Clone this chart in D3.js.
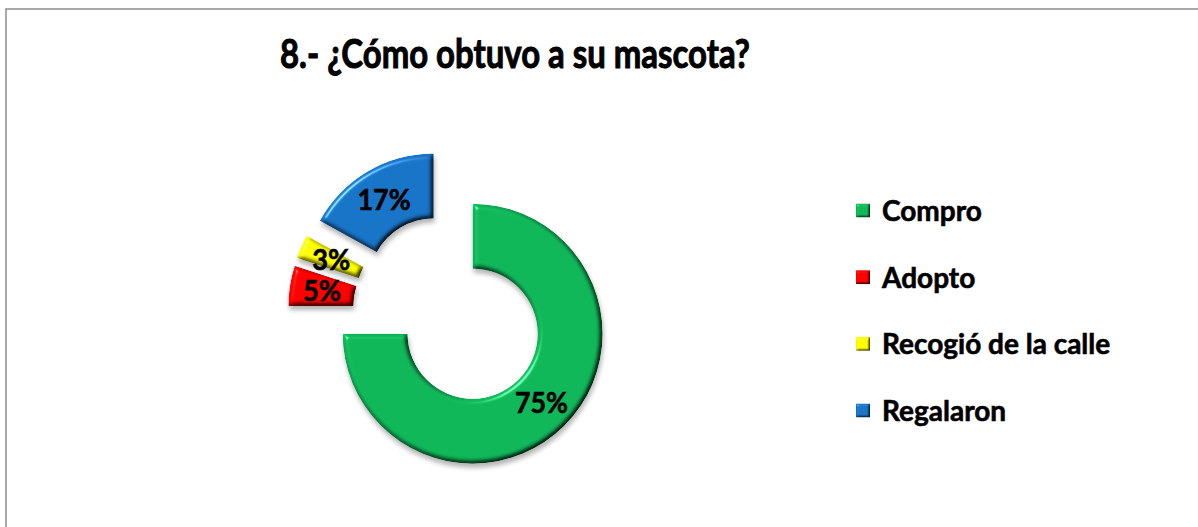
<!DOCTYPE html>
<html>
<head>
<meta charset="utf-8">
<script src="https://cdn.jsdelivr.net/npm/d3@7"></script>
<style>
    html, body { margin: 0; padding: 0; background: #fff; }
    svg { display: block; }
    text { font-family: Lato, "Open Sans", sans-serif; font-weight: 700; fill: #000; stroke: #000; stroke-width: 0.6px; }
</style>
</head>
<body>
<svg id="chart" width="1198" height="527"></svg>
<script>
const title = '8.- ¿Cómo obtuvo a su mascota?';
const categories = ['Compro', 'Adopto', 'Recogió de la calle', 'Regalaron'];
const values = [75, 5, 3, 17];
const colors = ['#10b759', '#ff0000', '#ffff00', '#1874c6'];

const width = 1198;
const height = 527;
const center = [450, 311];
const outerRadius = 130;
const innerRadius = 65;
const explode = 32;

const svg = d3.select('#chart');
const defs = svg.append('defs');

// bevel + drop shadow, rough copy of the office "soft round" look
function makeBevel(id, blur, scale, shadow) {
    const f = defs.append('filter').attr('id', id)
        .attr('color-interpolation-filters', 'sRGB')
        .attr('x', '-20%').attr('y', '-20%').attr('width', '140%').attr('height', '140%');
    f.append('feGaussianBlur').attr('in', 'SourceAlpha').attr('stdDeviation', blur).attr('result', 'blur');
    f.append('feDiffuseLighting').attr('in', 'blur').attr('surfaceScale', scale)
        .attr('diffuseConstant', 1 / Math.sin(60 * Math.PI / 180)).attr('lighting-color', '#fff').attr('result', 'diff')
        .append('feDistantLight').attr('azimuth', 225).attr('elevation', 60);
    f.append('feSpecularLighting').attr('in', 'blur').attr('surfaceScale', scale)
        .attr('specularConstant', 0.5).attr('specularExponent', 40).attr('lighting-color', '#fff').attr('result', 'spec')
        .append('feDistantLight').attr('azimuth', 225).attr('elevation', 35);
    f.append('feComposite').attr('in', 'SourceGraphic').attr('in2', 'diff').attr('operator', 'arithmetic')
        .attr('k1', 1).attr('result', 'shade');
    f.append('feComposite').attr('in', 'spec').attr('in2', 'SourceAlpha').attr('operator', 'in').attr('result', 'specIn');
    f.append('feComposite').attr('in', 'shade').attr('in2', 'specIn').attr('operator', 'arithmetic')
        .attr('k2', 1).attr('k3', 1).attr('result', 'lit');
    f.append('feComposite').attr('in', 'lit').attr('in2', 'SourceAlpha').attr('operator', 'in').attr('result', 'litIn');
    const m = f.append('feMerge');
    if (shadow) {
        f.insert('feGaussianBlur', 'feMerge').attr('in', 'SourceAlpha').attr('stdDeviation', 2.5).attr('result', 'sh');
        f.insert('feOffset', 'feMerge').attr('in', 'sh').attr('dx', 1).attr('dy', 4).attr('result', 'shOff');
        f.insert('feComponentTransfer', 'feMerge').attr('in', 'shOff').attr('result', 'shFade')
            .append('feFuncA').attr('type', 'linear').attr('slope', 0.3);
        m.append('feMergeNode').attr('in', 'shFade');
    }
    m.append('feMergeNode').attr('in', 'litIn');
}
makeBevel('bevel', 2.5, 4, true);
makeBevel('bevelSmall', 1.2, 2, false);

// chart area border
svg.append('rect')
    .attr('x', 6).attr('y', 9)
    .attr('width', width + 20).attr('height', height + 20)
    .attr('fill', 'none').attr('stroke', '#8c8c8c').attr('stroke-width', 1.5);

// squeeze the text to the width it has in the original (Calibri is narrow)
function squeeze(sel, target) {
    sel.each(function () {
        const w = this.getComputedTextLength();
        if (w > target) {
            d3.select(this).attr('textLength', target).attr('lengthAdjust', 'spacingAndGlyphs');
        }
    });
}

const titleText = svg.append('text')
    .attr('x', 515).attr('y', 68)
    .attr('text-anchor', 'middle')
    .style('font-size', '40px')
    .style('stroke-width', '1px')
    .text(title);
squeeze(titleText, 470);

const color = d3.scaleOrdinal().domain(categories).range(colors);
const total = d3.sum(values);

const pie = d3.pie().sort(null).value(d => d.value);
const arc = d3.arc().innerRadius(innerRadius).outerRadius(outerRadius);
const slices = pie(categories.map((c, i) => ({ name: c, value: values[i] })));

function offset(d) {
    const a = (d.startAngle + d.endAngle) / 2;
    return [explode * Math.sin(a), -explode * Math.cos(a)];
}

const g = svg.append('g').attr('transform', `translate(${center})`);

const sliceG = g.selectAll('g.slice').data(slices).enter()
    .append('g')
    .classed('slice', true)
    .attr('transform', d => `translate(${offset(d)})`);

sliceG.append('path')
    .attr('d', arc)
    .attr('fill', d => color(d.data.name))
    .attr('filter', 'url(#bevel)');

const labels = sliceG.append('text')
    .attr('x', d => arc.centroid(d)[0])
    .attr('y', d => arc.centroid(d)[1])
    .attr('text-anchor', 'middle')
    .attr('dy', '0.36em')
    .style('font-size', '28px')
    .text(d => d3.format('.0%')(d.data.value / total));
labels.each(function (d) {
    squeeze(d3.select(this), d.data.value >= 10 ? 53 : 38);
});

// legend
const legendY = d3.scalePoint().domain(categories).range([221, 421]);
const legend = svg.selectAll('g.legend').data(categories).enter()
    .append('g')
    .classed('legend', true)
    .attr('transform', d => `translate(856,${legendY(d)})`);

legend.append('rect')
    .attr('x', 0).attr('y', -17.5)
    .attr('width', 14).attr('height', 14)
    .attr('fill', d => color(d))
    .attr('filter', 'url(#bevelSmall)');

const legendText = legend.append('text')
    .attr('x', 26).attr('y', 0)
    .style('font-size', '28px')
    .text(d => d);
const legendWidths = [103, 97, 241, 131];
legendText.each(function (d, i) {
    squeeze(d3.select(this), legendWidths[i]);
});
</script>
</body>
</html>
